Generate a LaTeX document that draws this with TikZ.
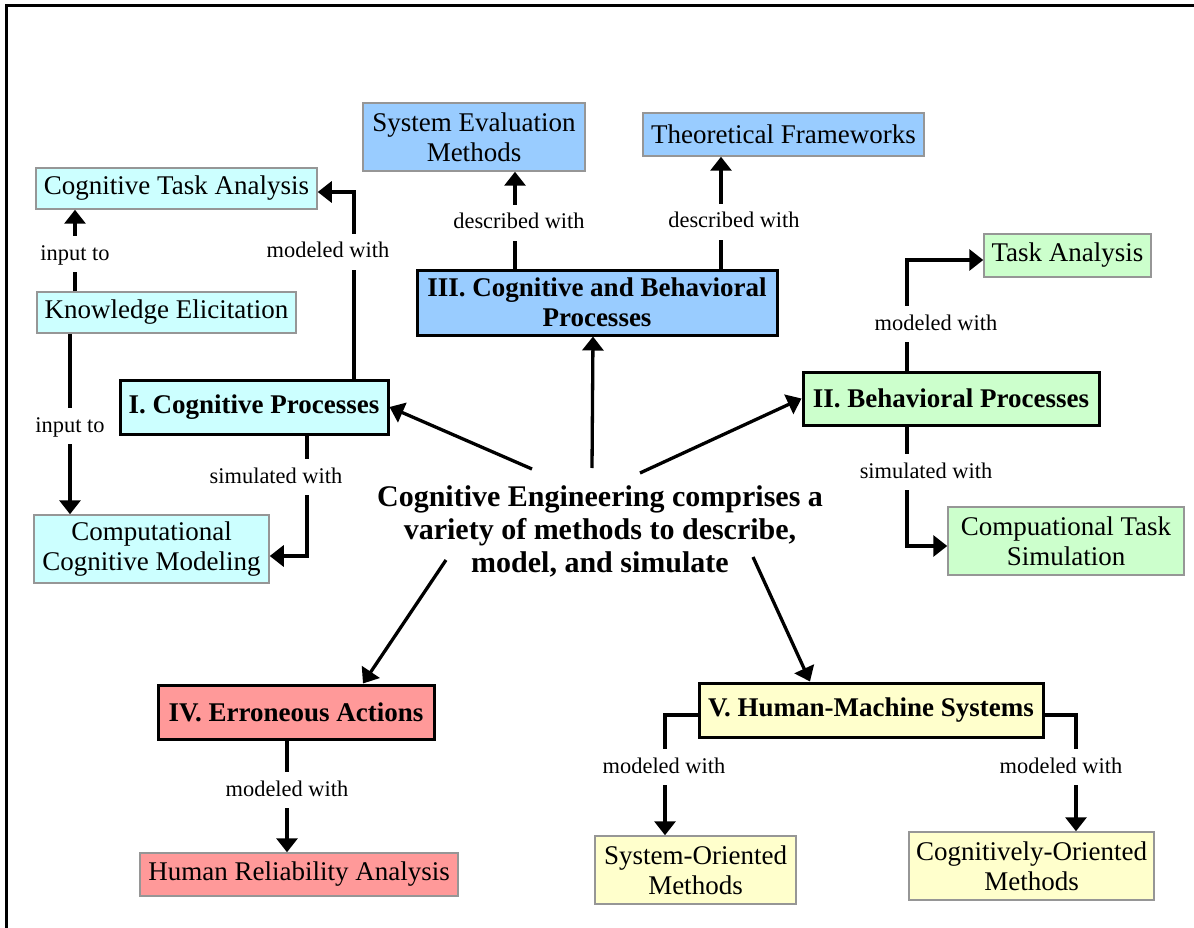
\documentclass[tikz,border=0pt]{standalone}
\usepackage{fontspec}
\setmainfont{Liberation Serif}
\usepackage{tikz}
\usetikzlibrary{arrows.meta, calc}

\definecolor{cogcyan}{RGB}{204,255,255}
\definecolor{cbblue}{RGB}{153,204,255}
\definecolor{behgreen}{RGB}{204,255,204}
\definecolor{errpink}{RGB}{255,153,153}
\definecolor{hmsyellow}{RGB}{255,255,204}
\definecolor{leafgray}{RGB}{150,150,150}

\tikzset{
    leaf/.style={rectangle,draw=leafgray,line width=1.5pt,inner sep=0pt,align=center,
        font=\fontsize{27}{30}\selectfont},
    mainbox/.style={rectangle,draw=black,line width=3pt,inner sep=0pt,align=center,
        font=\fontsize{27}{30}\selectfont\bfseries},
    lbl/.style={inner xsep=4pt,inner ysep=8pt,text height=16pt,text depth=4pt,
        font=\fontsize{22.4}{26}\selectfont},
    conn/.style={line width=3.3pt},
    arr/.style={line width=3.3pt,-{Triangle[length=14pt 0,width=21pt 0]}}
}

\begin{document}
\begin{tikzpicture}[x=1pt,y=-1pt]
    \useasboundingbox (0,0) rectangle (1194,928);
    % frame
    \draw[line width=3pt] (1194,6) -- (6,6) -- (6,928);

    % cognitive processes
    \node[leaf,fill=cogcyan,minimum width=281pt,minimum height=41pt] (cta) at (176.5,188.5) {Cognitive Task Analysis};
    \node[leaf,fill=cogcyan,minimum width=259pt,minimum height=41pt] (ke) at (166.5,312.5) {Knowledge Elicitation};
    \node[mainbox,fill=cogcyan,minimum width=268pt,minimum height=54pt] (cp) at (254,407) {I. Cognitive Processes};
    \node[leaf,fill=cogcyan,minimum width=235pt,minimum height=68pt] (ccm) at (151.5,549) {Computational\\Cognitive Modeling};

    % cognitive and behavioral processes
    \node[leaf,fill=cbblue,minimum width=222pt,minimum height=68pt] (sem) at (474,137) {System Evaluation\\Methods};
    \node[leaf,fill=cbblue,minimum width=281pt,minimum height=43pt] (tf) at (783.5,134.5) {Theoretical Frameworks};
    \node[mainbox,fill=cbblue,minimum width=360pt,minimum height=65pt] (cbp) at (597,302.5) {III. Cognitive and Behavioral\\Processes};

    % behavioral processes
    \node[leaf,fill=behgreen,minimum width=167pt,minimum height=43pt] (ta) at (1067.5,255.5) {Task Analysis};
    \node[mainbox,fill=behgreen,minimum width=296pt,minimum height=53pt] (bp) at (951,398.5) {II. Behavioral Processes};
    \node[leaf,fill=behgreen,minimum width=236pt,minimum height=68pt] (cts) at (1066,541) {Compuational Task\\Simulation};

    % centre
    \node[align=center,font=\fontsize{30}{33}\selectfont\bfseries] (ce) at (600,531)
        {Cognitive Engineering comprises a\\variety of methods to describe,\\model, and simulate};

    % erroneous actions
    \node[mainbox,fill=errpink,minimum width=276pt,minimum height=54pt] (ea) at (296,712) {IV. Erroneous Actions};
    \node[leaf,fill=errpink,minimum width=318pt,minimum height=43pt] (hra) at (299,874.5) {Human Reliability Analysis};

    % human-machine systems
    \node[mainbox,fill=hmsyellow,minimum width=344pt,minimum height=54pt] (hms) at (871,710) {V. Human-Machine Systems};
    \node[leaf,fill=hmsyellow,minimum width=201pt,minimum height=68pt] (som) at (695.5,870) {System-Oriented\\Methods};
    \node[leaf,fill=hmsyellow,minimum width=245pt,minimum height=68pt] (com) at (1031.5,866) {Cognitively-Oriented\\Methods};

    % link labels
    \node[lbl] (l1) at (328,252) {modeled with};
    \node[lbl] (l2) at (75,254) {input to};
    \node[lbl] (l3) at (70,426) {input to};
    \node[lbl] (l4) at (276,477) {simulated with};
    \node[lbl] (l5) at (519,223) {described with};
    \node[lbl] (l6) at (734,222) {described with};
    \node[lbl] (l7) at (936,324) {modeled with};
    \node[lbl] (l8) at (926,472) {simulated with};
    \node[lbl] (l9) at (287,790) {modeled with};
    \node[lbl] (l10) at (664,767) {modeled with};
    \node[lbl] (l11) at (1061,767) {modeled with};

    % bends
    \coordinate (b1) at (354,192);
    \coordinate (b4) at (307,556);
    \coordinate (b5) at (515,223);
    \coordinate (b6) at (721,222);
    \coordinate (b7) at (907,260);
    \coordinate (b8) at (907,546);
    \coordinate (b10) at (665,715);
    \coordinate (b11) at (1076,715);

    % links
    \draw[conn] (cp.north -| b1) -- (l1.south -| b1);
    \draw[arr] (l1.north -| b1) -- (b1) -- (cta.east |- b1);
    \draw[conn] (ke.north -| l2) -- (l2.south);
    \draw[arr] (l2.north) -- (cta.south -| l2);
    \draw[conn] (ke.south -| l3) -- (l3.north);
    \draw[arr] (l3.south) -- (ccm.north -| l3);
    \draw[conn] (cp.south -| b4) -- (l4.north -| b4);
    \draw[arr] (l4.south -| b4) -- (b4) -- (ccm.east |- b4);

    \draw[conn] (cbp.north -| b5) -- (l5.south -| b5);
    \draw[arr] (l5.north -| b5) -- (sem.south -| b5);
    \draw[conn] (cbp.north -| b6) -- (l6.south -| b6);
    \draw[arr] (l6.north -| b6) -- (tf.south -| b6);

    \draw[conn] (bp.north -| b7) -- (l7.south -| b7);
    \draw[arr] (l7.north -| b7) -- (b7) -- (ta.west |- b7);
    \draw[conn] (bp.south -| b8) -- (l8.north -| b8);
    \draw[arr] (l8.south -| b8) -- (b8) -- (cts.west |- b8);

    \draw[conn] (ea.south -| l9) -- (l9.north);
    \draw[arr] (l9.south) -- (hra.north -| l9);

    \draw[conn] (hms.west |- b10) -- (b10) -- (l10.north -| b10);
    \draw[arr] (l10.south -| b10) -- (som.north -| b10);
    \draw[conn] (hms.east |- b11) -- (b11) -- (l11.north -| b11);
    \draw[arr] (l11.south -| b11) -- (com.north -| b11);

    % from the centre
    \draw[arr] ([shift={(-68,-62)}]ce.center) -- (cp.east);
    \draw[arr] ([shift={(-8,-63)}]ce.center) -- ([xshift=-4pt]cbp.south);
    \draw[arr] ([shift={(40,-58)}]ce.center) -- (bp.west);
    \draw[arr] ([shift={(-154,29)}]ce.center) -- ([xshift=67pt]ea.north);
    \draw[arr] ([shift={(153,26)}]ce.center) -- ([xshift=-61pt]hms.north);
\end{tikzpicture}
\end{document}
